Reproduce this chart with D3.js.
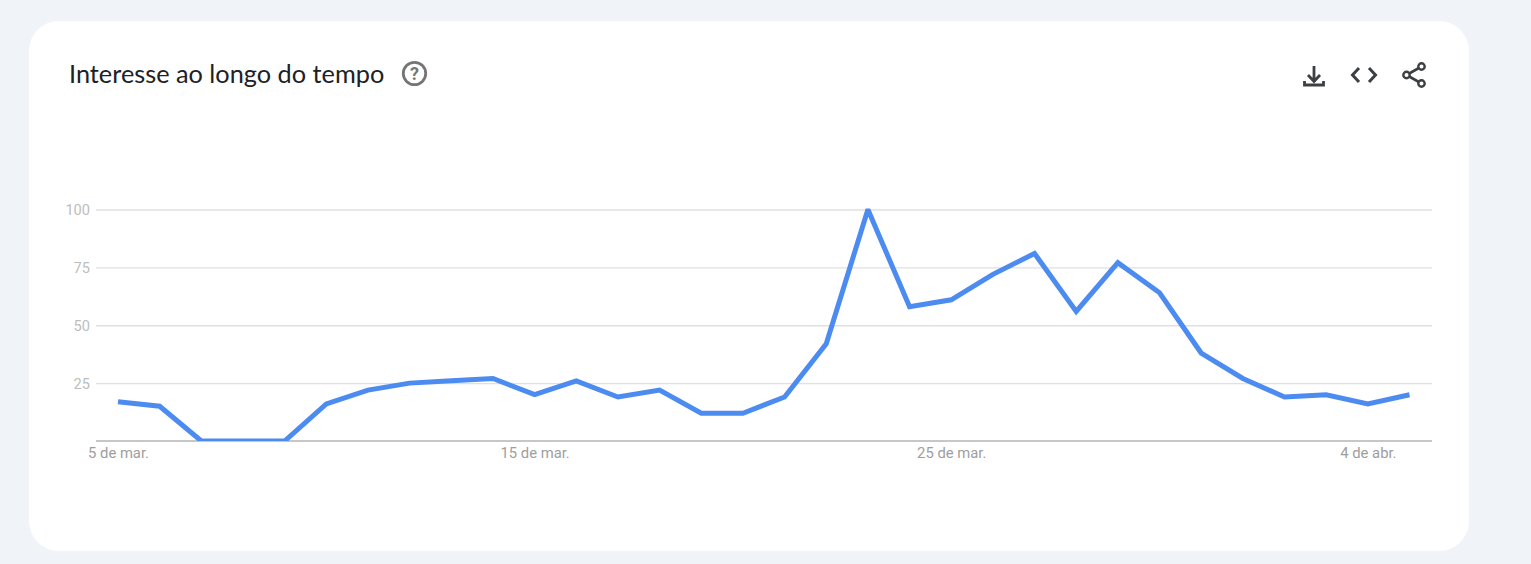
<!DOCTYPE html>
<html><head><meta charset="utf-8">
<script src="https://cdn.jsdelivr.net/npm/d3@7"></script>
<style>html,body{margin:0;padding:0;background:#f0f4f9;overflow:hidden}svg{display:block}</style>
</head><body><svg id="c" width="1531" height="564"></svg>
<script>
const titleText = "Interesse ao longo do tempo";
const startDate = "2020-03-05";
const values = [17,15,0,0,0,16,22,25,26,27,20,26,19,22,12,12,19,42,100,58,61,72,81,56,77,64,38,27,19,20,16,20];
const yTicks = [25,50,75,100];
const xTickDates = ["2020-03-05","2020-03-15","2020-03-25","2020-04-04"];
const xTickLabels = ["5 de mar.","15 de mar.","25 de mar.","4 de abr."];

const svg = d3.select("#c");
svg.append("rect").attr("x",29).attr("y",21).attr("width",1440).attr("height",530).attr("rx",30).attr("fill","#fff");

svg.append("text").attr("x",69).attr("y",83).attr("font-family","Lato, sans-serif").attr("font-size",25.3)
  .attr("fill","#202124").text(titleText);

// help icon
const help = svg.append("g").attr("transform","translate(414.5,73.5)");
help.append("circle").attr("r",11.2).attr("fill","none").attr("stroke","#757575").attr("stroke-width",2.8);
help.append("text").attr("y",6.5).attr("text-anchor","middle").attr("font-family","Roboto, sans-serif").attr("font-weight",700).attr("font-size",18).attr("fill","#757575").text("?");

// toolbar icons
const ic = "#3c4043";
svg.append("path").attr("d","M1314 66V81M1308 75L1314 81.500L1320 75M1304.500 81V85H1323.500V81")
  .attr("fill","none").attr("stroke",ic).attr("stroke-width",2.8);
svg.append("path").attr("d","M1359 68L1352.500 75L1359 82M1369 68L1375.500 75L1369 82").attr("fill","none").attr("stroke",ic).attr("stroke-width",3);
svg.append("path").attr("d","M1421.500 66.500L1406.500 75L1421.500 83.500").attr("fill","none").attr("stroke",ic).attr("stroke-width",2.6);
[[1421.5,66.5],[1406.5,75],[1421.5,83.5]].forEach(p=>svg.append("circle").attr("cx",p[0]).attr("cy",p[1]).attr("r",3.2).attr("fill","#fff").attr("stroke",ic).attr("stroke-width",2.4));

const parse = d3.utcParse("%Y-%m-%d");
const t0 = parse(startDate);
const dates = values.map((_,i)=>d3.utcDay.offset(t0,i));
const x = d3.scaleUtc().domain([dates[0],dates[dates.length-1]]).range([118,1409.5]);
const y = d3.scaleLinear().domain([0,100]).range([441,209.5]);

const yAxis = d3.axisLeft(y).tickValues(yTicks).tickSize(-1336).tickPadding(6);
const gy = svg.append("g").attr("transform","translate(96,0)").call(yAxis);
gy.select(".domain").remove();
gy.selectAll("line").attr("stroke","#e0e0e0").attr("stroke-width",1.3);
gy.selectAll("text").attr("font-family","Roboto, sans-serif").attr("font-size",14.6).attr("fill","#bdbdbd").attr("dy","0.36em");

const xAxis = d3.axisBottom(x).tickValues(xTickDates.map(parse)).tickSize(0).tickPadding(6)
  .tickFormat((d,i)=>xTickLabels[i]);
const gx = svg.append("g").attr("transform","translate(0,441)").call(xAxis);
gx.select(".domain").attr("d","M96,0H1432").attr("stroke","#b5b5b5").attr("stroke-width",1.5);
gx.selectAll("text").attr("font-family","Roboto, sans-serif").attr("font-size",14.8).attr("fill","#9e9e9e");

svg.append("clipPath").attr("id","plot").append("rect").attr("x",96).attr("y",208.5).attr("width",1336).attr("height",232.5);
svg.append("path").datum(values)
  .attr("clip-path","url(#plot)")
  .attr("d",d3.line().x((d,i)=>x(dates[i])).y(d=>y(d)))
  .attr("fill","none").attr("stroke","#4c8bf0").attr("stroke-width",5).attr("stroke-linejoin","miter");
</script></body></html>
